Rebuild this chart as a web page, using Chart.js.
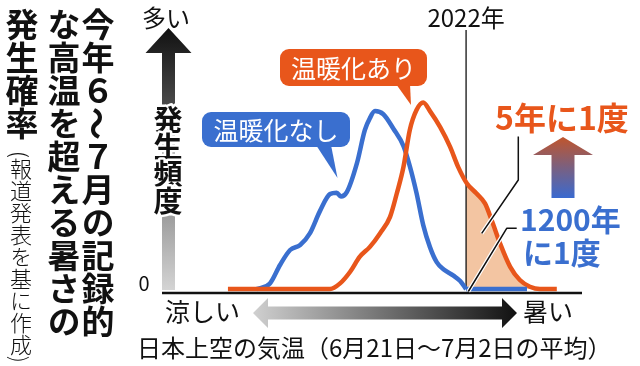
<!DOCTYPE html>
<html lang="ja">
<head>
<meta charset="utf-8">
<script src="https://cdn.jsdelivr.net/npm/chart.js@4.4.1/dist/chart.umd.min.js"></script>
<style>
  html, body { margin: 0; padding: 0; background: #fff; }
  #wrap { position: relative; width: 640px; height: 366px; overflow: hidden; }
  #chart { position: absolute; left: 0; top: 0; }
  .vt { position: absolute; writing-mode: vertical-rl; font-family: 'Noto Sans CJK JP', sans-serif; line-height: 1; white-space: nowrap; color: #111; }
  .title { font-size: 33px; font-weight: bold; }
  .src { font-size: 22px; font-weight: 300; }
  .side { text-orientation: sideways; }
</style>
</head>
<body>
<div id="wrap">
  <canvas id="chart" width="640" height="366"></canvas>
  <div class="vt title" style="left:81px; top:8px;">今年６<span class="side">～</span>７月の記録的</div>
  <div class="vt title" style="left:47px; top:8px;">な高温を超える暑さの</div>
  <div class="vt title" style="left:5px; top:8px;">発生確率</div>
  <div class="vt src" style="left:10px; top:151px;">(報道発表を基に作成)</div>
</div>
<script>
// temperature (arbitrary units, cool -> hot) and frequency
const noWarmX = [22.5, 25.7, 28.1, 30.5, 32.9, 35.2, 37.6, 40.0, 41.6, 42.6, 44.0, 46.4, 48.3, 49.5, 50.7, 52.7, 55.1, 57.5, 59.0, 60.6, 62.2, 63.8, 65.4, 67.0, 69.4, 71.0, 72.4];
const noWarmY = [0, 2.2, 9.3, 15.1, 17.0, 21.5, 30.1, 36.7, 37.2, 35.7, 37.4, 48.5, 61.4, 66.0, 68.7, 67.5, 61.9, 55.2, 47.5, 37.1, 24.7, 16.2, 10.4, 7.7, 5.2, 3.1, 0];
const noWarmTailX = [72.4, 86.9];
const noWarmTailY = [0, 0];

const warmX = [15.7, 40.0, 42.4, 44.8, 47.1, 49.5, 51.9, 54.3, 55.9, 57.5, 59.0, 60.6, 62.2, 63.8, 66.2, 68.6, 70.5, 72.6, 74.9, 76.9, 78.5, 80.5, 82.9, 85.2, 87.6, 90.0, 94.0];
const warmY = [0, 0, 2.2, 6.7, 12.5, 16.3, 21.5, 27.9, 36.9, 47.2, 61.4, 69.1, 72.0, 68.7, 62.6, 54.9, 47.2, 40.8, 36.9, 33.1, 26.6, 17.6, 8.6, 3.5, 0.9, 0, 0];

// part of the warm curve hotter than 2022
const shadeX = [72.4, 74.9, 76.9, 78.5, 80.5, 82.9, 85.2, 87.6, 90.0];
const shadeY = [40.5, 36.9, 33.1, 26.6, 17.6, 8.6, 3.5, 0.9, 0];

const year2022X = 72.4;

const BLUE = '#3a6fcf';
const ORANGE = '#e8561b';
const PEACH = '#f3c5a2';
const JP = "'Noto Sans CJK JP', sans-serif";

function pts(xs, ys) {
  return xs.map(function(x, i) { return { x: x, y: ys[i] }; });
}

function arrowPath(ctx, cx, tipY, headY, bottomY, headW, shaftW) {
  ctx.beginPath();
  ctx.moveTo(cx, tipY);
  ctx.lineTo(cx + headW / 2, headY);
  ctx.lineTo(cx + shaftW / 2, headY);
  ctx.lineTo(cx + shaftW / 2, bottomY);
  ctx.lineTo(cx - shaftW / 2, bottomY);
  ctx.lineTo(cx - shaftW / 2, headY);
  ctx.lineTo(cx - headW / 2, headY);
  ctx.closePath();
}

function text(ctx, str, x, y, font, color, align) {
  ctx.font = font;
  ctx.fillStyle = color;
  ctx.textAlign = align || 'left';
  ctx.textBaseline = 'middle';
  ctx.fillText(str, x, y);
}

function leader(ctx, points) {
  ctx.lineJoin = 'round';
  ctx.beginPath();
  points.forEach(function(p, i) { i ? ctx.lineTo(p[0], p[1]) : ctx.moveTo(p[0], p[1]); });
  ctx.strokeStyle = '#fff';
  ctx.lineWidth = 4;
  ctx.stroke();
  ctx.strokeStyle = '#111';
  ctx.lineWidth = 1.5;
  ctx.stroke();
}

const decor = {
  id: 'decor',
  afterDatasetDraw: function(chart, args) {
    if (args.index !== 0) return;
    // 2022 line, drawn over the shaded area
    const ctx = chart.ctx;
    const x = chart.scales.x.getPixelForValue(year2022X);
    ctx.save();
    ctx.strokeStyle = '#111';
    ctx.lineWidth = 1.3;
    ctx.beginPath();
    ctx.moveTo(x, chart.chartArea.top);
    ctx.lineTo(x, chart.scales.y.getPixelForValue(0));
    ctx.stroke();
    ctx.restore();
  },
  afterDraw: function(chart) {
    const ctx = chart.ctx;
    const area = chart.chartArea;
    const xs = chart.scales.x;
    ctx.save();

    // x axis line
    ctx.strokeStyle = '#111';
    ctx.lineWidth = 2.5;
    ctx.beginPath();
    ctx.moveTo(area.left, area.bottom);
    ctx.lineTo(area.right, area.bottom);
    ctx.stroke();

    // y arrow
    let g = ctx.createLinearGradient(0, 28, 0, 290);
    g.addColorStop(0, '#111');
    g.addColorStop(1, '#d4d4d4');
    arrowPath(ctx, 168.5, 28, 53, 290, 46, 13);
    ctx.fillStyle = g;
    ctx.fill();

    const freq = ['発', '生', '頻', '度'];
    ctx.font = 'bold 29px ' + JP;
    ctx.textAlign = 'center';
    ctx.textBaseline = 'middle';
    ctx.lineJoin = 'round';
    freq.forEach(function(c, i) {
      ctx.strokeStyle = '#fff';
      ctx.lineWidth = 5;
      ctx.strokeText(c, 168, 120 + i * 27);
      ctx.fillStyle = '#111';
      ctx.fillText(c, 168, 120 + i * 27);
    });

    text(ctx, '多い', 166, 18, '24px ' + JP, '#111', 'center');
    text(ctx, '0', 144, 283, '20px ' + JP, '#111', 'center');
    text(ctx, '2022年', xs.getPixelForValue(year2022X), 18, '24px ' + JP, '#111', 'center');

    // horizontal cool/hot arrow
    g = ctx.createLinearGradient(253, 0, 517, 0);
    g.addColorStop(0, '#d0d0d0');
    g.addColorStop(1, '#111');
    ctx.beginPath();
    ctx.moveTo(253, 313);
    ctx.lineTo(268, 298);
    ctx.lineTo(268, 306.5);
    ctx.lineTo(502, 306.5);
    ctx.lineTo(502, 298);
    ctx.lineTo(517, 313);
    ctx.lineTo(502, 328);
    ctx.lineTo(502, 319.5);
    ctx.lineTo(268, 319.5);
    ctx.lineTo(268, 328);
    ctx.closePath();
    ctx.fillStyle = g;
    ctx.fill();

    text(ctx, '涼しい', 165, 311, '25px ' + JP, '#111');
    text(ctx, '暑い', 523, 311, '25px ' + JP, '#111');
    text(ctx, '日本上空の気温（6月21日～7月2日の平均）', 137, 348, '24px ' + JP, '#111');

    // callouts
    ctx.fillStyle = ORANGE;
    ctx.beginPath();
    ctx.roundRect(280, 49, 147, 37, 9);
    ctx.fill();
    ctx.beginPath();
    ctx.moveTo(396, 84);
    ctx.lineTo(410, 84);
    ctx.lineTo(411, 105);
    ctx.closePath();
    ctx.fill();
    text(ctx, '温暖化あり', 353.5, 68, '25px ' + JP, '#fff', 'center');

    ctx.fillStyle = BLUE;
    ctx.beginPath();
    ctx.roundRect(202, 112, 148, 35, 9);
    ctx.fill();
    ctx.beginPath();
    ctx.moveTo(316, 145);
    ctx.lineTo(331, 145);
    ctx.lineTo(337.5, 178);
    ctx.closePath();
    ctx.fill();
    text(ctx, '温暖化なし', 276, 130, '25px ' + JP, '#fff', 'center');

    // return period labels
    text(ctx, '5年に1度', 495, 118, 'bold 32px ' + JP, ORANGE);
    g = ctx.createLinearGradient(0, 137, 0, 198);
    g.addColorStop(0, '#c0552c');
    g.addColorStop(0.5, '#7a6080');
    g.addColorStop(1, '#3a6ad0');
    arrowPath(ctx, 563, 137, 155, 198, 60, 23);
    ctx.fillStyle = g;
    ctx.fill();
    text(ctx, '1200年', 520, 220, 'bold 30px ' + JP, BLUE);
    text(ctx, 'に1度', 523, 253, 'bold 30px ' + JP, BLUE);

    leader(ctx, [[518.3, 136.5], [518.3, 180], [481.7, 233.3]]);
    leader(ctx, [[516.7, 228.3], [506.7, 228.3], [468.3, 291.5]]);

    ctx.restore();
  }
};

new Chart(document.getElementById('chart'), {
  type: 'scatter',
  data: {
    datasets: [{
      label: 'shade',
      data: pts(shadeX, shadeY),
      showLine: true,
      borderWidth: 0,
      borderColor: 'rgba(0,0,0,0)',
      backgroundColor: PEACH,
      fill: 'origin',
      pointRadius: 0,
      cubicInterpolationMode: 'monotone',
      order: 4
    }, {
      label: '温暖化なし',
      data: pts(noWarmX, noWarmY),
      showLine: true,
      borderColor: BLUE,
      borderWidth: 4.5,
      pointRadius: 0,
      cubicInterpolationMode: 'monotone',
      order: 3
    }, {
      label: '温暖化あり',
      data: pts(warmX, warmY),
      showLine: true,
      borderColor: ORANGE,
      borderWidth: 4.5,
      pointRadius: 0,
      cubicInterpolationMode: 'monotone',
      order: 2
    }, {
      label: '温暖化なし（2022年以降）',
      data: pts(noWarmTailX, noWarmTailY),
      showLine: true,
      borderColor: BLUE,
      borderWidth: 4.5,
      pointRadius: 0,
      order: 1
    }]
  },
  options: {
    responsive: false,
    animation: false,
    layout: { padding: { left: 162, right: 58, top: 30, bottom: 73 } },
    plugins: {
      legend: { display: false },
      tooltip: { enabled: false }
    },
    scales: {
      x: { type: 'linear', min: 0, max: 100, display: false },
      y: { min: -1.5, max: 100, display: false }
    }
  },
  plugins: [decor]
});
</script>
</body>
</html>
